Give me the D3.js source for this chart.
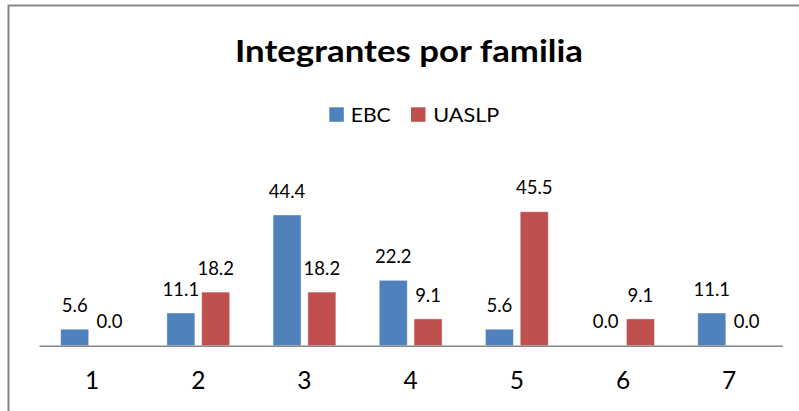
<!DOCTYPE html>
<html>
<head>
<meta charset="utf-8">
<script src="https://cdn.jsdelivr.net/npm/d3@7/dist/d3.min.js"></script>
<style>
  html, body { margin: 0; padding: 0; background: #fff; }
  svg { display: block; }
  text { font-family: Lato, "Open Sans", sans-serif; fill: #000; }
</style>
</head>
<body>
<svg id="chart" width="799" height="411"></svg>
<script>
// ---- data ----
const categories = ["1", "2", "3", "4", "5", "6", "7"];
const seriesNames = ["EBC", "UASLP"];
const ebcValues = [5.6, 11.1, 44.4, 22.2, 5.6, 0.0, 11.1];
const uaslpValues = [0.0, 18.2, 18.2, 9.1, 45.5, 9.1, 0.0];
const chartTitle = "Integrantes por familia";

// ---- layout / style ----
const colors = { EBC: "#4F81BD", UASLP: "#C0504D" };
const axisY = 345.7;
const svg = d3.select("#chart");

// frame (only top and left edges fall inside the picture)
svg.append("rect")
  .attr("x", 8.5).attr("y", 5.5)
  .attr("width", 820).attr("height", 430)
  .attr("fill", "none").attr("stroke", "#878787").attr("stroke-width", 2);

const x0 = d3.scaleBand().domain(categories).range([39, 782.3]).paddingInner(0).paddingOuter(0);
const x1 = d3.scaleBand().domain(seriesNames).range([-34.8, 34.8]);
const barW = 28;
const y = d3.scaleLinear().domain([0, 50]).range([axisY, axisY - 147.2]);

const rows = categories.map((c, i) => ({ cat: c, EBC: ebcValues[i], UASLP: uaslpValues[i] }));

const groups = svg.append("g").selectAll("g").data(rows).join("g")
  .attr("transform", d => `translate(${x0(d.cat) + x0.bandwidth() / 2},0)`);

groups.selectAll("rect").data(d => seriesNames.map(s => ({ s, v: d[s] }))).join("rect")
  .attr("x", d => x1(d.s) + x1.bandwidth() / 2 - barW / 2)
  .attr("width", barW)
  .attr("y", d => y(d.v))
  .attr("height", d => y(0) - y(d.v))
  .attr("fill", d => colors[d.s])
  .attr("stroke", d => d.v > 0 ? "rgba(255,255,255,0.5)" : "none")
  .attr("stroke-width", 0.8);

groups.selectAll("text.val").data(d => seriesNames.map(s => ({ s, v: d[s] }))).join("text")
  .attr("class", "val")
  .attr("x", d => x1(d.s) + x1.bandwidth() / 2)
  .attr("y", d => y(d.v) - 17.4)
  .attr("text-anchor", "middle")
  .attr("font-size", 18.5)
  .text(d => d3.format(".1f")(d.v));

// category axis
const xAxis = svg.append("g")
  .attr("transform", `translate(0,${axisY})`)
  .call(d3.axisBottom(x0).tickSize(0).tickPadding(0));
xAxis.select(".domain").attr("stroke", "#868686").attr("stroke-width", 1.6);
xAxis.selectAll(".tick text")
  .attr("dy", null)
  .attr("y", 389.5 - axisY)
  .attr("font-size", 24.5)
  .attr("font-family", "Lato, 'Open Sans', sans-serif")
  .attr("fill", "#000");

// title
svg.append("text")
  .attr("x", 409).attr("y", 61.7)
  .attr("text-anchor", "middle")
  .attr("font-size", 30).attr("font-weight", "bold")
  .attr("textLength", 348).attr("lengthAdjust", "spacingAndGlyphs")
  .text(chartTitle);

// legend
const legendItems = [
  { name: seriesNames[0], sx: 329.3, tx: 350.7, tw: 40 },
  { name: seriesNames[1], sx: 411, tx: 433.3, tw: 66 }
];
const lg = svg.append("g").selectAll("g").data(legendItems).join("g");
lg.append("rect")
  .attr("x", d => d.sx).attr("y", 107.3)
  .attr("width", 14.5).attr("height", 14.5)
  .attr("fill", d => colors[d.name]);
lg.append("text")
  .attr("x", d => d.tx).attr("y", 121.7)
  .attr("font-size", 20)
  .attr("textLength", d => d.tw).attr("lengthAdjust", "spacingAndGlyphs")
  .text(d => d.name);
</script>
</body>
</html>
